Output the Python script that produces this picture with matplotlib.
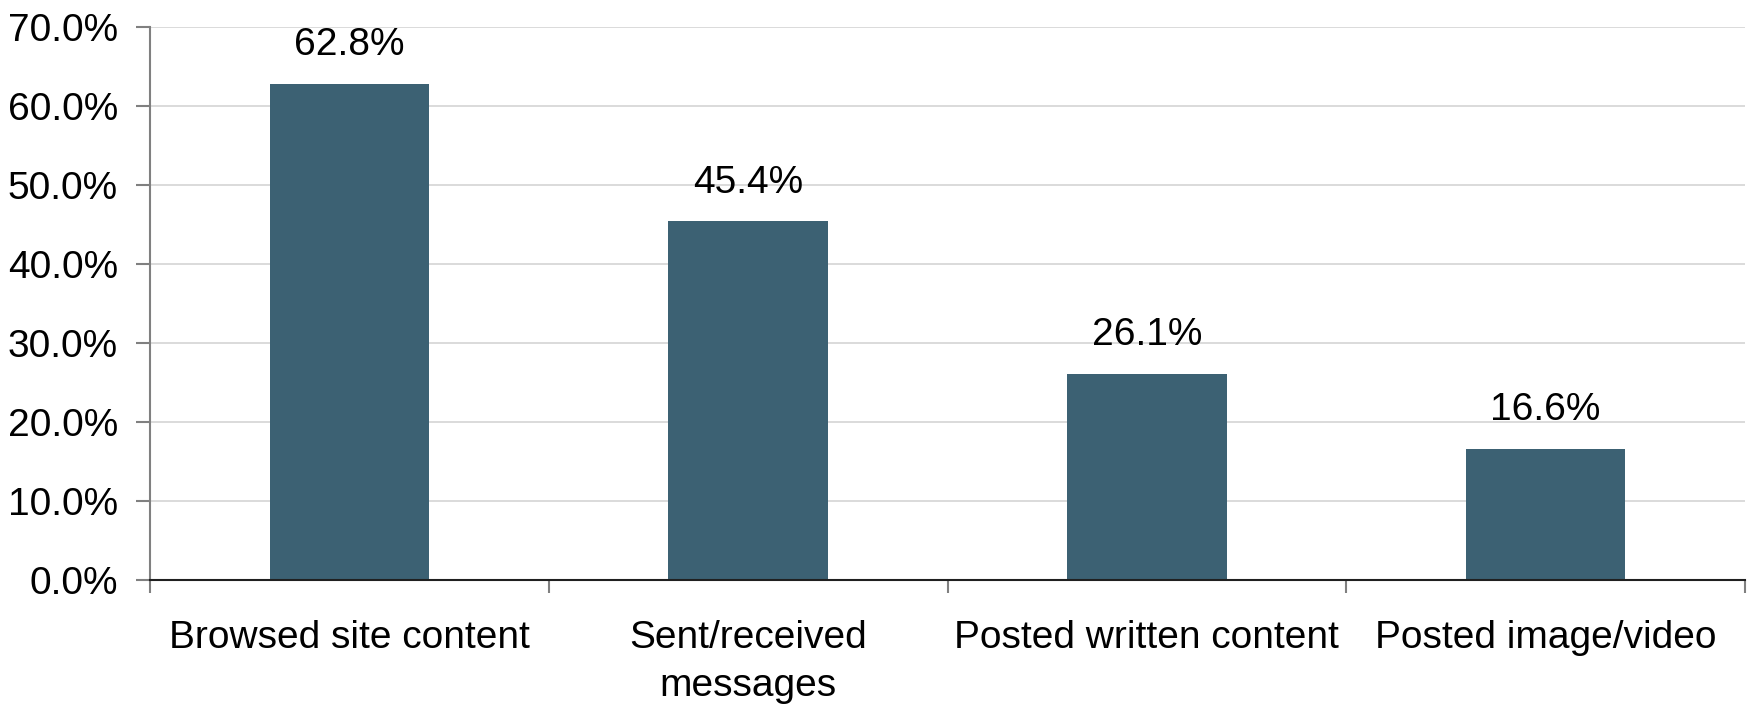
import matplotlib.pyplot as plt
import numpy as np
from matplotlib.ticker import FixedLocator, PercentFormatter

# data
categories = ['Browsed site content', 'Sent/received\nmessages',
              'Posted written content', 'Posted image/video']
values = [62.8, 45.4, 26.1, 16.6]
y_ticks = [0, 10, 20, 30, 40, 50, 60, 70]

plt.rcParams['font.family'] = ['Liberation Sans', 'DejaVu Sans']

fig = plt.figure(figsize=(17.48, 7.04), dpi=100)
ax = fig.add_axes([0.0858, 0.176, 0.9125, 0.7856])

x = np.arange(len(categories))
bars = ax.bar(x, values, width=0.4, color='#3c6173', zorder=3)

# value labels above bars
for b, v in zip(bars, values):
    ax.annotate(f'{v:.1f}%', (b.get_x() + b.get_width() / 2, v),
                xytext=(0, 15), textcoords='offset points',
                ha='center', va='bottom', fontsize=28)

ax.set_xlim(-0.5, len(categories) - 0.5)
ax.set_ylim(0, 70)
ax.set_yticks(y_ticks)
ax.yaxis.set_major_formatter(PercentFormatter(decimals=1))
ax.grid(axis='y', color='#d4d4d4', linewidth=1.2, zorder=0)

ax.set_xticks(x)
ax.set_xticklabels(categories, fontsize=28, linespacing=1.42)
ax.xaxis.set_minor_locator(FixedLocator(np.arange(-0.5, len(categories), 1)))
ax.tick_params(axis='x', which='major', length=0, pad=29)
ax.tick_params(axis='x', which='minor', length=9, color='#808080', width=1.5)
ax.tick_params(axis='y', labelsize=28, length=10, color='#808080', width=1.5, pad=13)

for s in ['top', 'right']:
    ax.spines[s].set_visible(False)
ax.spines['left'].set_color('#808080')
ax.spines['left'].set_linewidth(1.5)
ax.spines['bottom'].set_color('#202020')
ax.spines['bottom'].set_linewidth(1.5)
ax.spines['bottom'].set_zorder(4)

fig.savefig('out.png', dpi=100)
